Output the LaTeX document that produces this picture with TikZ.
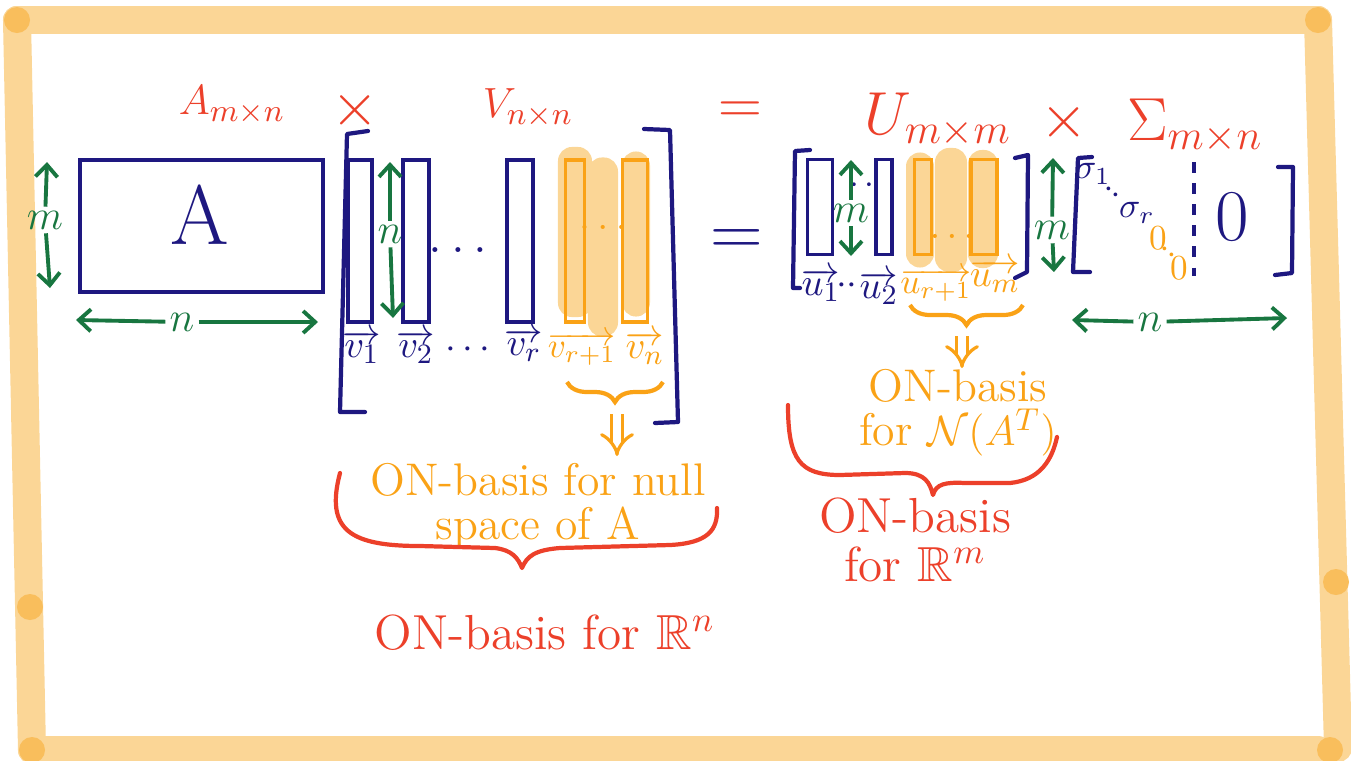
\documentclass[tikz,border=0pt]{standalone}
\usepackage{amssymb}
\usepackage{fontspec}
\usepackage{xcolor}
\usepackage{tikz}
\usetikzlibrary{arrows.meta,positioning,decorations.pathreplacing}

\definecolor{ink}{RGB}{30,24,128}
\definecolor{inkgreen}{RGB}{24,118,64}
\definecolor{inkred}{RGB}{236,64,42}
\definecolor{inkorange}{RGB}{250,162,22}
\definecolor{hilite}{RGB}{251,214,150}
\definecolor{hilitedot}{RGB}{249,190,92}

\begin{document}
\begin{tikzpicture}[
  x=0.01cm, y=-0.01cm,
  boardframe/.style={hilite, line width=0.28cm, line cap=round},
  framedot/.style={fill=hilitedot, draw=none},
  pill/.style={fill=hilite, draw=none, inner sep=0pt, rounded corners=0.14cm},
  col/.style={draw=ink, line width=1.1pt, inner sep=0pt, minimum height=1.62cm},
  ocol/.style={col, draw=inkorange},
  ucol/.style={col, minimum height=0.95cm},
  oucol/.style={ucol, draw=inkorange},
  bracket/.style={draw=ink, line width=1.2pt, line cap=round, line join=round},
  dim/.style={inkgreen, line width=1.1pt, -{Straight Barb[length=1.2mm, width=2.2mm]}},
  dimlbl/.style={text=inkgreen, inner sep=1pt, font=\fontsize{13}{15}\selectfont},
  headlbl/.style={text=inkred, inner sep=1pt, font=\fontsize{13}{15}\selectfont},
  biglbl/.style={headlbl, font=\fontsize{17}{19}\selectfont},
  vlbl/.style={text=ink, inner sep=0pt, font=\fontsize{11}{13}\selectfont},
  olbl/.style={vlbl, text=inkorange},
  slbl/.style={vlbl, font=\fontsize{10}{12}\selectfont},
  onote/.style={text=inkorange, inner sep=1pt, align=center, font=\fontsize{13}{12.5}\selectfont},
  rnote/.style={text=inkred, inner sep=1pt, align=center, font=\fontsize{14}{14}\selectfont},
  obrace/.style={draw=inkorange, line width=1.2pt, decorate, decoration={brace, mirror, amplitude=0.2cm}},
  rbrace/.style={draw=inkred, line width=1.2pt, line cap=round, line join=round},
  implies/.style={draw=inkorange, line width=0.9pt, double distance=2.4pt, -{Implies}}
]
\useasboundingbox (0,0) rectangle (1351,760);

\draw[boardframe] (17,20) -- (1318,20);
\draw[boardframe] (17,20) -- (32,750);
\draw[boardframe] (32,750) -- (1318,750);
\draw[boardframe] (1318,20) -- (1338,748);
\foreach \p in {(17,20),(1318,20),(30,607),(32,750),(1336,582),(1330,750)}
  \fill[framedot] \p circle (0.13cm);

\node[pill, minimum width=0.34cm, minimum height=1.70cm] (pv1) at (575,232) {};
\node[pill, minimum width=0.30cm, minimum height=1.79cm] (pv2) at (603,247) {};
\node[pill, minimum width=0.28cm, minimum height=1.65cm] (pv3) at (636,234) {};
\node[pill, minimum width=0.28cm, minimum height=1.15cm] (pu1) at (920,210) {};
\node[pill, minimum width=0.32cm, minimum height=1.24cm] (pu2) at (951,210) {};
\node[pill, minimum width=0.30cm, minimum height=1.18cm] (pu3) at (983,209) {};

\node[headlbl] (Alab) at (232,105) {$A_{m\times n}$};
\node[headlbl, font=\fontsize{16}{18}\selectfont] (x1) at (355,110) {$\times$};
\node[headlbl] (Vlab) at (528,108) {$V_{n\times n}$};
\node[headlbl, font=\fontsize{16}{18}\selectfont] (eqtop) at (740,113) {$=$};
\node[biglbl] (Ulab) at (938,120) {$U_{m\times m}$};
\node[headlbl, font=\fontsize{16}{18}\selectfont] (x2) at (1064,122) {$\times$};
\node[biglbl] (Slab) at (1195,126) {$\Sigma_{m\times n}$};

\draw[ink, line width=1.2pt] (80,160) rectangle (323,292);
\node[text=ink, font=\fontsize{24}{26}\selectfont] (Abig) at (200,215) {A};

\node[dimlbl] (mA) at (45,220) {$m$};
\coordinate (mAtop) at (47,162);
\coordinate (mAbot) at (50,288);
\draw[dim] (mA) -- (mAtop);
\draw[dim] (mA) -- (mAbot);
\node[dimlbl] (nA) at (182,322) {$n$};
\coordinate (nAleft) at (76,320);
\coordinate (nAright) at (318,322);
\draw[dim] (nA) -- (nAleft);
\draw[dim] (nA) -- (nAright);

\draw[bracket] (368,131) -- (347,134) -- (340,412) -- (365,412);
\draw[bracket] (644,129) -- (670,130) -- (678,422) -- (655,423);
\node[col, minimum width=0.24cm] (v1) at (360,241) {};
\node[col, minimum width=0.26cm] (v2) at (416,241) {};
\node[col, minimum width=0.26cm] (vr) at (520,241) {};
\node[ocol, minimum width=0.19cm] (vr1) at (575,241) {};
\node[ocol, minimum width=0.25cm] (vn) at (635,241) {};
\node[text=ink, font=\fontsize{14}{16}\selectfont] (vdots) at (458,250) {$\dots$};
\node[text=inkorange, font=\fontsize{12}{14}\selectfont] (pdots) at (603,227) {$\dots$};

\node[dimlbl] (nV) at (390,234) {$n$};
\coordinate (nVtop) at (390,162);
\coordinate (nVbot) at (393,318);
\draw[dim] (nV) -- (nVtop);
\draw[dim] (nV) -- (nVbot);

\node[vlbl] (lv1) at (362,347) {$\overrightarrow{v_1}$};
\node[vlbl] (lv2) at (416,347) {$\overrightarrow{v_2}$};
\node[vlbl] (lvdots) at (468,350) {$\cdots$};
\node[vlbl] (lvr) at (524,345) {$\overrightarrow{v_r}$};
\node[olbl, font=\fontsize{10}{12}\selectfont] (lvr1) at (582,349) {$\overrightarrow{v_{r+1}}$};
\node[olbl] (lvn) at (645,348) {$\overrightarrow{v_n}$};

\coordinate (vbl) at (567,382);
\coordinate (vbr) at (663,382);
\draw[obrace] (vbl) -- (vbr);
\coordinate (vbtip) at (617,414);
\coordinate (vbend) at (617,456);
\draw[implies] (vbtip) -- (vbend);

\node[onote] (nullnote) at (538,506) {ON-basis for null\\space of A};
\draw[rbrace] (340,473) .. controls (325,530) and (350,546) .. (420,546)
  -- (495,548) .. controls (512,550) and (518,558) .. (522,568)
  .. controls (527,556) and (535,550) .. (560,548)
  -- (670,545) .. controls (708,543) and (718,530) .. (717,508);
\node[rnote] (rnnote) at (545,633) {ON-basis for $\mathbb{R}^n$};

\node[text=ink, font=\fontsize{20}{22}\selectfont] (eqmid) at (737,243) {$=$};

\draw[bracket] (810,150) -- (795,151) -- (793,288) -- (800,288);
\draw[bracket] (1015,158) -- (1028,155) -- (1027,272) -- (1015,278);
\node[ucol, minimum width=0.25cm] (u1) at (820,207) {};
\node[ucol, minimum width=0.16cm] (u2) at (884,207) {};
\node[oucol, minimum width=0.17cm] (ur1) at (923,207) {};
\node[oucol, minimum width=0.26cm] (um) at (984,207) {};
\node[text=inkorange, font=\fontsize{11}{13}\selectfont] (udots) at (952,236) {$\dots$};
\node[text=ink, font=\fontsize{10}{12}\selectfont, inner sep=0pt] (udiag) at (862,186) {$\cdot\,\cdot$};

\node[dimlbl] (mU) at (851,213) {$m$};
\coordinate (mUtop) at (851,160);
\coordinate (mUbot) at (851,256);
\draw[dim] (mU) -- (mUtop);
\draw[dim] (mU) -- (mUbot);

\node[vlbl] (lu1) at (821,285) {$\overrightarrow{u_1}$};
\node[vlbl] (ludots) at (847,286) {$\cdot\cdot$};
\node[vlbl] (lu2) at (879,288) {$\overrightarrow{u_2}$};
\node[olbl, font=\fontsize{10}{12}\selectfont] (lur1) at (936,285) {$\overrightarrow{u_{r+1}}$};
\node[olbl] (lum) at (995,276) {$\overrightarrow{u_m}$};

\coordinate (ubl) at (910,305);
\coordinate (ubr) at (1023,305);
\draw[obrace] (ubl) -- (ubr);
\coordinate (ubtip) at (962,336);
\coordinate (ubend) at (962,368);
\draw[implies] (ubtip) -- (ubend);

\node[onote] (natnote) at (958,413) {ON-basis\\for $\mathcal{N}(A^T)$};
\draw[rbrace] (788,405) .. controls (788,460) and (800,475) .. (840,475)
  -- (905,473) .. controls (925,473) and (930,483) .. (933,495)
  .. controls (936,484) and (945,482) .. (965,483)
  -- (1010,483) .. controls (1040,480) and (1052,460) .. (1057,437);
\node[rnote] (rmnote) at (915,540) {ON-basis\\for $\mathbb{R}^m$};

\draw[bracket] (1092,157) -- (1078,158) -- (1073,272) -- (1090,272);
\draw[bracket] (1278,167) -- (1293,167) -- (1292,273) -- (1275,275);
\node[slbl] (s1) at (1093,174) {$\sigma_1$};
\node[slbl, rotate=-40] (sdots) at (1112,193) {$\cdot\cdot$};
\node[slbl] (sr) at (1137,213) {$\sigma_r$};
\node[slbl, text=inkorange] (z1) at (1158,238) {$0$};
\node[slbl, text=inkorange, rotate=-40] (zdots) at (1168,253) {$\cdot\cdot$};
\node[slbl, text=inkorange] (z2) at (1179,268) {$0$};
\draw[ink, line width=1.1pt, dashed] (1194,162) -- (1194,276);
\node[text=ink, font=\fontsize{22}{24}\selectfont] (zero) at (1232,217) {$0$};

\node[dimlbl] (mS) at (1052,230) {$m$};
\coordinate (mStop) at (1053,158);
\coordinate (mSbot) at (1054,272);
\draw[dim] (mS) -- (mStop);
\draw[dim] (mS) -- (mSbot);
\node[dimlbl] (nS) at (1150,322) {$n$};
\coordinate (nSleft) at (1072,320);
\coordinate (nSright) at (1287,318);
\draw[dim] (nS) -- (nSleft);
\draw[dim] (nS) -- (nSright);
\end{tikzpicture}
\end{document}
